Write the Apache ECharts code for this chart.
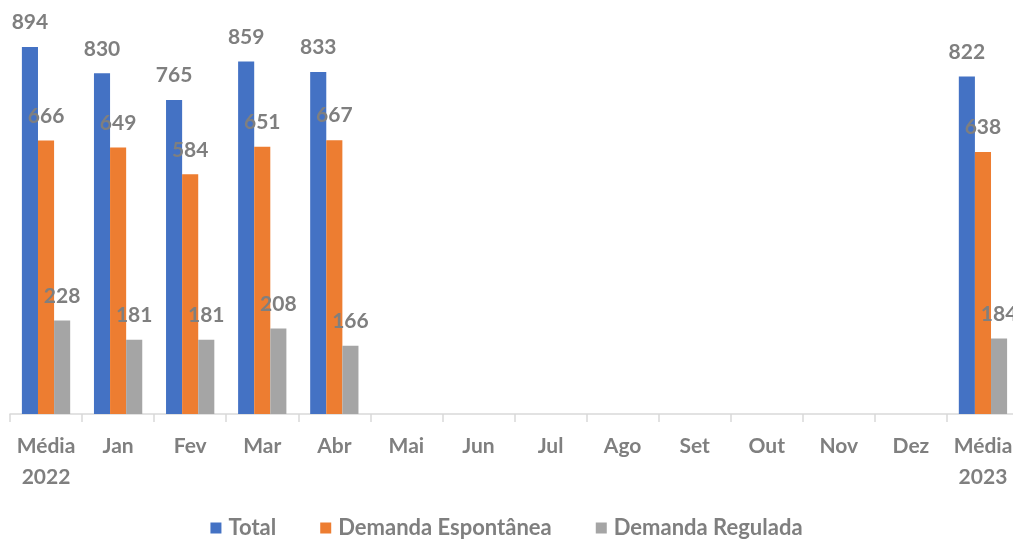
<!DOCTYPE html>
<html>
<head>
<meta charset="utf-8">
<script src="https://cdn.jsdelivr.net/npm/echarts@6/dist/echarts.min.js"></script>
<style>
  html, body { margin: 0; padding: 0; background: #fff; }
  #chart { width: 1013px; height: 539px; }
</style>
</head>
<body>
<div id="chart"></div>
<script>
const categories = ["Média\n2022", "Jan", "Fev", "Mar", "Abr", "Mai", "Jun", "Jul", "Ago", "Set", "Out", "Nov", "Dez", "Média\n2023"];
const total = [894, 830, 765, 859, 833, null, null, null, null, null, null, null, null, 822];
const espontanea = [666, 649, 584, 651, 667, null, null, null, null, null, null, null, null, 638];
const regulada = [228, 181, 181, 208, 166, null, null, null, null, null, null, null, null, 184];

const textGray = "#7f7f7f";
const font = "Lato";

function barSeries(name, data, color) {
  return {
    name: name,
    type: "bar",
    data: data,
    barGap: "0%",
    barCategoryGap: "33%",
    itemStyle: { color: color },
    label: {
      show: true,
      position: "top",
      distance: 14,
      color: textGray,
      fontFamily: font,
      fontWeight: "bold",
      fontSize: 21,
    },
  };
}

const chart = echarts.init(document.getElementById("chart"));
chart.setOption({
  animation: false,
  grid: { left: 10, right: -6, top: 3.5, bottom: 125, outerBoundsMode: "none", containLabel: false },
  legend: {
    bottom: -5,
    left: "center",
    itemWidth: 11,
    itemHeight: 11,
    itemGap: 44,
    icon: "rect",
    textStyle: { color: textGray, fontFamily: font, fontWeight: "bold", fontSize: 22, padding: [0, 0, 0, 2] },
  },
  xAxis: {
    type: "category",
    data: categories,
    axisLine: { lineStyle: { color: "#d9d9d9", width: 1.5 } },
    axisTick: { show: true, length: 8, lineStyle: { color: "#d9d9d9", width: 1.5 } },
    axisLabel: {
      color: textGray,
      fontFamily: font,
      fontWeight: "bold",
      fontSize: 21,
      lineHeight: 31,
      margin: 17,
      interval: 0,
    },
  },
  yAxis: { type: "value", min: 0, max: 1000, show: false, splitLine: { show: false } },
  series: [
    barSeries("Total", total, "#4472c4"),
    barSeries("Demanda Espontânea", espontanea, "#ed7d31"),
    barSeries("Demanda Regulada", regulada, "#a5a5a5"),
  ],
});
</script>
</body>
</html>
